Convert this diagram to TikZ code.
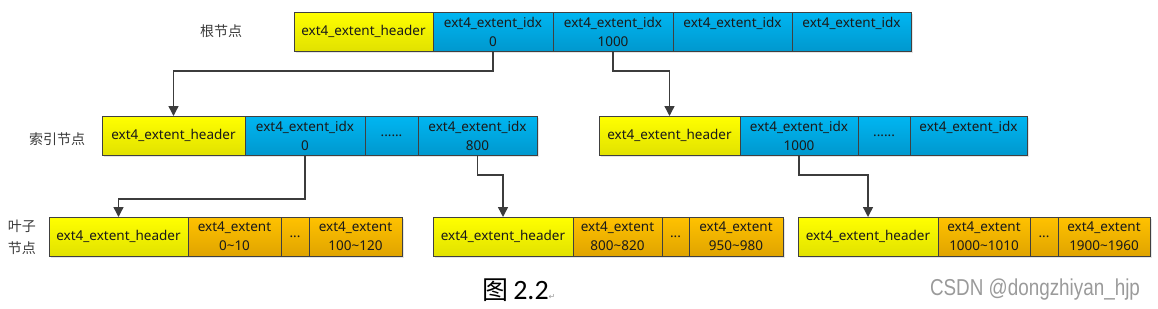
\documentclass[tikz,border=0pt]{standalone}
\usepackage{fontspec}
\setmainfont{Noto Sans}
\newfontfamily\cjk{Noto Sans CJK SC}
\newfontfamily\capfont{Carlito}
\newfontfamily\symfont{DejaVu Sans}
\newfontfamily\wmfont[FakeStretch=0.82]{Liberation Sans}
\usetikzlibrary{positioning,arrows.meta,shadows}

\definecolor{hdrtop}{HTML}{FFFF00}
\definecolor{hdrbot}{HTML}{E2E200}
\definecolor{idxtop}{HTML}{00B6F2}
\definecolor{idxbot}{HTML}{0098CE}
\definecolor{exttop}{HTML}{FFC200}
\definecolor{extbot}{HTML}{E0A400}
\definecolor{cellline}{HTML}{404040}
\definecolor{arrowgray}{HTML}{3C3C3C}
\definecolor{txtdark}{HTML}{1A1A1A}
\definecolor{lblgray}{HTML}{3A3A3A}
\definecolor{wmgray}{HTML}{9A9A9A}

\begin{document}
\begin{tikzpicture}[
    x=1pt, y=-1pt,
    node distance=0pt,
    font=\fontsize{13.5}{19}\selectfont,
    cell/.style={rectangle, draw=cellline, line width=1pt, outer sep=0pt, inner xsep=1pt, inner ysep=1pt, minimum height=39pt, align=center, text=txtdark, drop shadow={shadow xshift=1.5pt, shadow yshift=-1.5pt, fill=black!20}},
    hdr/.style={cell, top color=hdrtop, bottom color=hdrbot},
    idx/.style={cell, top color=idxtop, bottom color=idxbot},
    ext/.style={cell, top color=exttop, bottom color=extbot},
    level/.style={font=\cjk\fontsize{14}{22}\selectfont, text=lblgray, align=center},
    arrow/.style={-{Triangle[length=10pt,width=10pt]}, line width=1.4pt, draw=arrowgray}
]
\useasboundingbox (0,0) rectangle (1158,308);

% === ROOT ===
\node[hdr, minimum width=139pt, anchor=north west] (rhdr) at (294,12) {ext4\_extent\_header};
\node[idx, minimum width=120pt, right=of rhdr] (ridx0) {ext4\_extent\_idx\\0};
\node[idx, minimum width=120pt, right=of ridx0] (ridx1) {ext4\_extent\_idx\\1000};
\node[idx, minimum width=119pt, right=of ridx1] (ridx2) {ext4\_extent\_idx\\\mbox{}};
\node[idx, minimum width=119pt, right=of ridx2] (ridx3) {ext4\_extent\_idx\\\mbox{}};

% === INDEX ===
\node[hdr, minimum width=143pt, anchor=north west] (ihdrA) at (102,116) {ext4\_extent\_header};
\node[idx, minimum width=120pt, right=of ihdrA] (iidxA0) {ext4\_extent\_idx\\0};
\node[idx, minimum width=53pt, right=of iidxA0] (idotsA) {......};
\node[idx, minimum width=119pt, right=of idotsA] (iidxA1) {ext4\_extent\_idx\\800};

\node[hdr, minimum width=141pt, anchor=north west] (ihdrB) at (599,116) {ext4\_extent\_header};
\node[idx, minimum width=118pt, right=of ihdrB] (iidxB0) {ext4\_extent\_idx\\1000};
\node[idx, minimum width=52pt, right=of iidxB0] (idotsB) {......};
\node[idx, minimum width=117pt, right=of idotsB] (iidxB1) {ext4\_extent\_idx\\\mbox{}};

% === LEAVES ===
\node[hdr, minimum width=139pt, anchor=north west] (lhdrA) at (49,217) {ext4\_extent\_header};
\node[ext, minimum width=93pt, right=of lhdrA] (lextA0) {ext4\_extent\\0\textasciitilde10};
\node[ext, minimum width=28pt, right=of lextA0] (ldotsA) {...};
\node[ext, minimum width=93pt, right=of ldotsA] (lextA1) {ext4\_extent\\100\textasciitilde120};

\node[hdr, minimum width=140pt, anchor=north west] (lhdrB) at (433,217) {ext4\_extent\_header};
\node[ext, minimum width=89pt, right=of lhdrB] (lextB0) {ext4\_extent\\800\textasciitilde820};
\node[ext, minimum width=27pt, right=of lextB0] (ldotsB) {...};
\node[ext, minimum width=94pt, right=of ldotsB] (lextB1) {ext4\_extent\\950\textasciitilde980};

\node[hdr, minimum width=140pt, anchor=north west] (lhdrC) at (798,217) {ext4\_extent\_header};
\node[ext, minimum width=92pt, right=of lhdrC] (lextC0) {ext4\_extent\\1000\textasciitilde1010};
\node[ext, minimum width=28pt, right=of lextC0] (ldotsC) {...};
\node[ext, minimum width=92pt, right=of ldotsC] (lextC1) {ext4\_extent\\1900\textasciitilde1960};

% === LEVEL NAMES ===
\node[level] (lroot) at (221,31) {根节点};
\node[level] (lindex) at (57,139) {索引节点};
\node[level] (lleaf) at (22,237) {叶子\\节点};

% === CONNECTIONS ===
\draw[arrow] (ridx0.south) -- ++(0,20) -| (ihdrA.north);
\draw[arrow] (ridx1.south) -- ++(0,20) -| (ihdrB.north);
\draw[arrow] (iidxA0.south) -- ++(0,44) -| (lhdrA.north);
\draw[arrow] (iidxA1.south) -- ++(0,20) -| (lhdrB.north);
\draw[arrow] (iidxB0.south) -- ++(0,20) -| (lhdrC.north);

% === CAPTION ===
\node[font=\capfont\fontsize{28}{30}\selectfont] (caption) at (519,290) {{\cjk\fontsize{26}{30}\selectfont 图}\,2.2{\symfont\fontsize{8}{8}\selectfont\color{wmgray}↵}};
\node[font=\wmfont\fontsize{23}{24}\selectfont, text=wmgray] (mark) at (1035,290) {CSDN @dongzhiyan\_hjp};

\end{tikzpicture}
\end{document}
